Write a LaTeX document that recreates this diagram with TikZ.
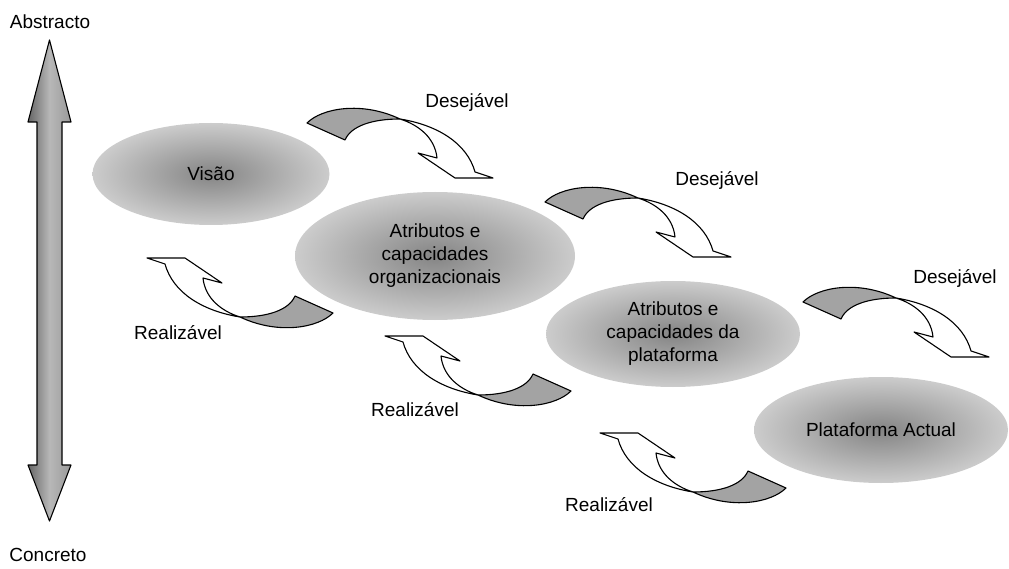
\documentclass[tikz,border=0pt]{standalone}
\usepackage{fontspec}
\setmainfont{Liberation Sans}
\usetikzlibrary{shapes.geometric}
\begin{document}
\begin{tikzpicture}[x=1pt,y=-1pt,
  lbl/.style={font=\fontsize{19}{23}\selectfont, inner sep=0pt, align=center},
  cloud/.style={ellipse, inner sep=0pt, shading=radial,
    inner color=black!48, outer color=black!20,
    font=\fontsize{19}{23}\selectfont, align=center},
  outline/.style={draw=black, line width=1.1pt, line join=round},
  tailfill/.style={outline, fill=black!36},
  twistarrow/.pic={
    % shaded tail, twisting into the white body and head
    \path[tailfill] (0,0) .. controls (15,-15) and (55,-22) .. (93,-4)
      .. controls (65,-4) and (44,3) .. (38,17) -- cycle;
    \path[outline, fill=white] (93,-4) .. controls (130,2) and (160,20) .. (168,49)
      -- (186,55) -- (148,55) -- (111,30) -- (130,35)
      .. controls (128,15) and (112,2) .. (93,-4) -- cycle;
  }]
\useasboundingbox (0,0) rectangle (1009,569);

% vertical scale arrow
\shade[outline, left color=black!60, right color=black!40, middle color=black!28]
  (49.5,40) -- (71,122) -- (62,122) -- (62,465) -- (71,465) -- (49.5,521)
  -- (28,465) -- (37,465) -- (37,122) -- (28,122) -- cycle;
\node[lbl] (abs) at (50,22) {Abstracto};
\node[lbl] (conc) at (48,555) {Concreto};

% levels
\node[cloud, minimum width=237pt, minimum height=102pt] (vis) at (211,174) {Visão};
\node[cloud, minimum width=280pt, minimum height=128pt] (org) at (435,256)
  {Atributos e\\capacidades\\organizacionais};
\node[cloud, minimum width=254pt, minimum height=106pt] (plat) at (673,334)
  {Atributos e\\capacidades da\\plataforma};
\node[cloud, minimum width=254pt, minimum height=106pt] (act) at (881,430)
  {Plataforma Actual};

% downward transitions
\pic at (307,123) {twistarrow};
\pic at (545,202) {twistarrow};
\pic at (803,302) {twistarrow};
\node[lbl] (d1) at (467,102) {Desejável};
\node[lbl] (d2) at (717,180) {Desejável};
\node[lbl] (d3) at (955,278) {Desejável};

% upward transitions
\pic[rotate=180] at (333,313) {twistarrow};
\pic[rotate=180] at (571,391) {twistarrow};
\pic[rotate=180] at (786,488) {twistarrow};
\node[lbl] (r1) at (178,333) {Realizável};
\node[lbl] (r2) at (415,410) {Realizável};
\node[lbl] (r3) at (609,505) {Realizável};
\end{tikzpicture}
\end{document}
